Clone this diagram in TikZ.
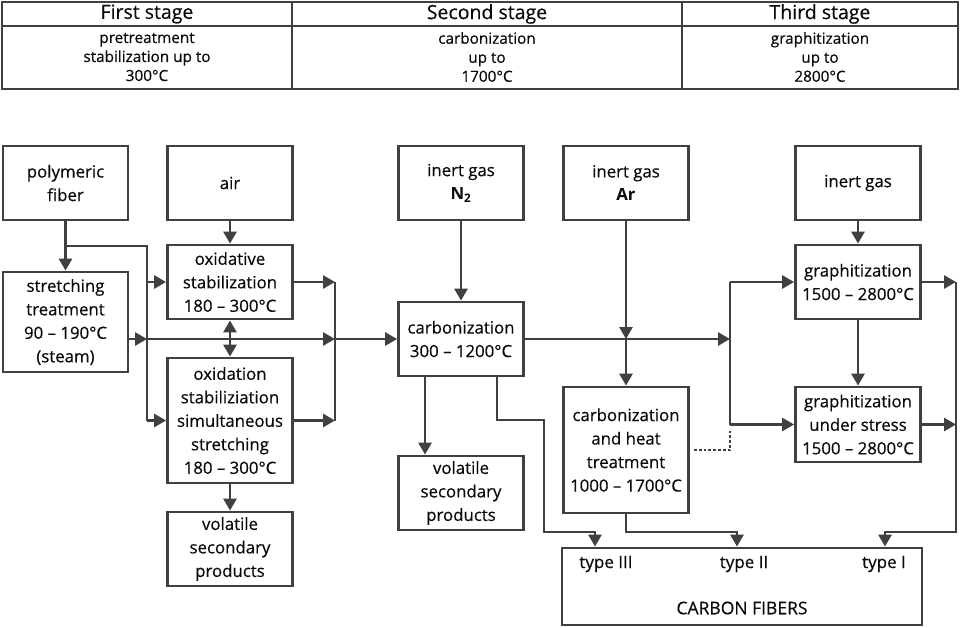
\documentclass[tikz,border=0pt]{standalone}
\usepackage{fontspec}
\setmainfont{Open Sans}[FakeBold=0.4, BoldFeatures={FakeBold=0}]
\usetikzlibrary{arrows.meta,calc}
\definecolor{ln}{HTML}{404040}
\definecolor{tx}{HTML}{0A0A0A}
\tikzset{
  box/.style={draw=ln, line width=2.8pt, inner sep=0pt, align=center, text=tx,
    font=\fontsize{16.8}{23.5}\selectfont, minimum width=125pt, minimum height=74pt},
  con/.style={draw=ln, line width=2.8pt},
  arr/.style={con, -{Triangle[length=12pt,width=13pt]}},
  dbl/.style={con, {Triangle[length=12pt,width=13pt]}-{Triangle[length=12pt,width=13pt]}},
  lab/.style={text=tx, inner sep=0pt, align=center},
}
\begin{document}
\begin{tikzpicture}[x=1pt,y=-1pt]
\useasboundingbox[fill=white] (0,0) rectangle (960,627);
% header
\draw[con] (2,2) rectangle (958,89);
\draw[con] (2,26) -- (958,26);
\draw[con] (292,2) -- (292,89);
\draw[con] (682,2) -- (682,89);
\node[lab, font=\fontsize{19.5}{22}\selectfont] (h1) at (147,14) {First stage};
\node[lab, font=\fontsize{19.5}{22}\selectfont] (h2) at (487,14) {Second stage};
\node[lab, font=\fontsize{19.5}{22}\selectfont] (h3) at (820,14) {Third stage};
\node[lab, font=\fontsize{15.3}{19}\selectfont] (s1) at (147,57) {pretreatment\\stabilization up to\\300°C};
\node[lab, font=\fontsize{15.3}{19}\selectfont] (s2) at (487,57) {carbonization\\up to\\1700°C};
\node[lab, font=\fontsize{15.3}{19}\selectfont] (s3) at (820,57) {graphitization\\up to\\2800°C};
% boxes
\node[box] (fib) at (65.5,183) {polymeric\\fiber};
\node[box] (air) at (230,183) {air};
\node[box] (oxs) at (230,282) {oxidative\\stabilization\\180 – 300°C};
\node[box, minimum height=100pt] (str) at (65.5,322) {stretching\\treatment\\90 – 190°C\\(steam)};
\node[box, minimum height=125pt] (oxd) at (230,420.5) {oxidation\\stabiliziation\\simultaneous\\stretching\\180 – 300°C};
\node[box] (vol1) at (230,549) {volatile\\secondary\\products};
\node[box] (n2) at (461,183) {inert gas\\\textbf{N\textsubscript{2}}};
\node[box] (ar) at (626,183) {inert gas\\\textbf{Ar}};
\node[box] (carb) at (461,339) {carbonization\\300 – 1200°C};
\node[box] (vol2) at (461,493) {volatile\\secondary\\products};
\node[box, minimum height=126pt] (cht) at (626,450) {carbonization\\and heat\\treatment\\1000 – 1700°C};
\node[box] (ig) at (858,183) {inert gas};
\node[box] (gr) at (858,282) {graphitization\\1500 – 2800°C};
\node[box, minimum height=75pt] (grs) at (858,424.5) {graphitization\\under stress\\1500 – 2800°C};
\node[box, minimum width=360pt, minimum height=77pt] (cf) at (742,586.5) {};
\node[lab, font=\fontsize{17}{20}\selectfont] (t3) at (606,564) {type III};
\node[lab, font=\fontsize{17}{20}\selectfont] (t2) at (744,564) {type II};
\node[lab, font=\fontsize{17}{20}\selectfont] (t1) at (884,564) {type I};
\node[lab, font=\fontsize{17.5}{20}\selectfont] (cft) at (742,608) {CARBON FIBERS};
% junction coordinates
\coordinate (j1) at (65.5,246);
\coordinate (j2) at (147,246);
\coordinate (v1) at (147,339);
\coordinate (v2) at (335,339);
\coordinate (v3) at (730,339);
\coordinate (r1) at (956,282);
\coordinate (r2) at (956,424.5);
% first stage connectors
\draw[arr] (fib.south) -- (str.north);
\draw[con] (j1) -- (j2) -- (j2 |- oxd.west);
\draw[arr] (j2 |- oxd.west) -- (oxd.west);
\draw[arr] (j2 |- oxs.west) -- (oxs.west);
\draw[arr] (str.east |- v1) -- (v1);
\draw[arr] (v1) -- (v2);
\draw[arr] (v2) -- (carb.west);
\draw[arr] (oxs.east) -- (v2 |- oxs.east);
\draw[arr] (oxd.east) -- (v2 |- oxd.east);
\draw[con] (v2 |- oxs.east) -- (v2 |- oxd.east);
\draw[arr] (air.south) -- (oxs.north);
\draw[dbl] (oxs.south) -- (oxd.north);
\draw[arr] (oxd.south) -- (vol1.north);
% second stage
\draw[arr] (n2.south) -- (carb.north);
\draw[arr] (ar.south) -- (ar.south |- carb.east);
\draw[arr] (ar.south |- carb.east) -- (cht.north);
\draw[arr] (carb.east) -- (v3);
\draw[con] (v3 |- gr.west) -- (v3 |- grs.west);
\draw[arr] (v3 |- gr.west) -- (gr.west);
\draw[arr] (v3 |- grs.west) -- (grs.west);
\draw[ln, line width=2.8pt, dotted] ($(cht.east)+(4,0)$) -| ($(v3 |- grs.west)+(0,4)$);
\draw[arr] (carb.south -| 425,0) -- (vol2.north -| 425,0);
\draw[arr] (carb.south -| 497,0) -- (497,420) -- (544,420) -- (544,532) -- (595,532) -- (cf.north -| 595,0);
\draw[arr] (cht.south) -- (cht.south |- 0,532) -- (737,532) -- (cf.north -| 737,0);
% third stage
\draw[arr] (ig.south) -- (gr.north);
\draw[arr] (gr.south) -- (grs.north);
\draw[arr] (gr.east) -- (r1);
\draw[arr] (grs.east) -- (r2);
\draw[arr] (r1) -- (956,532) -- (885,532) -- (cf.north -| 885,0);
\end{tikzpicture}
\end{document}
